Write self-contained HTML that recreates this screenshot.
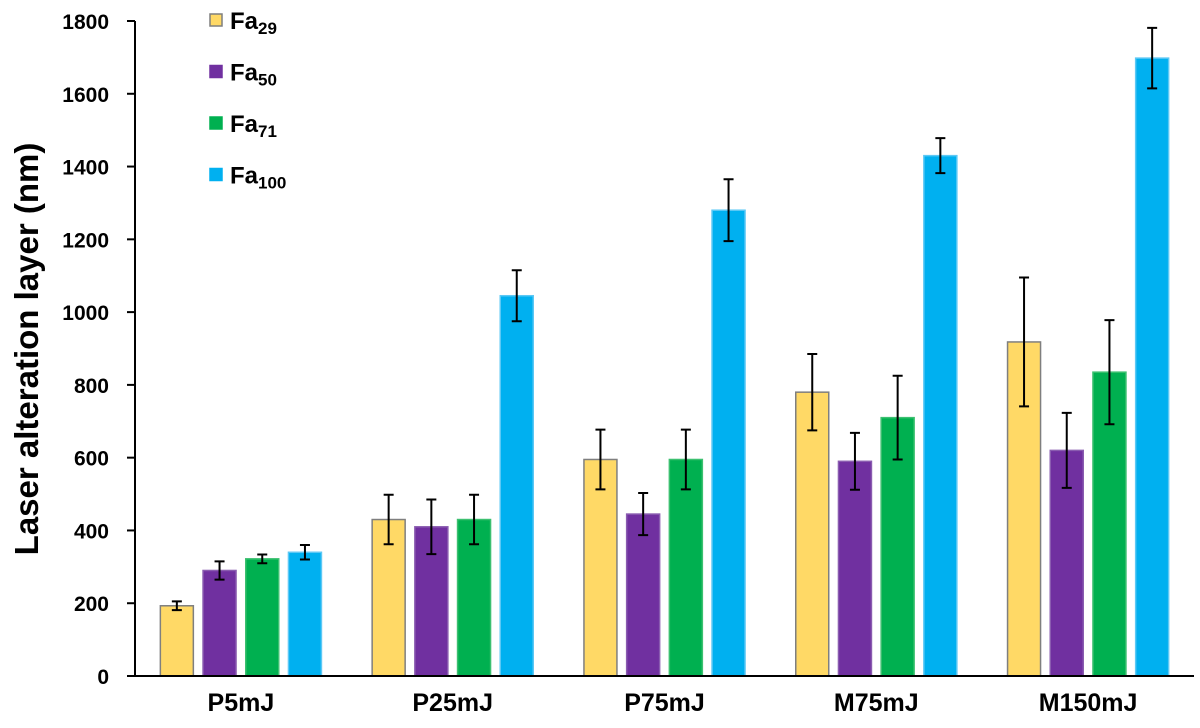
<!DOCTYPE html>
<html><head><meta charset="utf-8"><style>
body{margin:0;background:#fff;}
svg text{font-family:"Liberation Sans",Arial,sans-serif;font-weight:bold;fill:#000;}
</style></head><body>
<svg id="chart" width="1200" height="723"></svg>
<script>
const categories=["P5mJ","P25mJ","P75mJ","M75mJ","M150mJ"];
const seriesNames=["29","50","71","100"];
const fa29=[193,430,595,780,918];
const fa50=[290,410,445,590,620];
const fa71=[322,430,595,710,835];
const fa100=[340,1045,1280,1430,1698];
const err29=[12,68,82,105,177];
const err50=[25,75,58,78,103];
const err71=[12,68,82,115,143];
const err100=[20,70,85,48,83];
const yTicks=[0,200,400,600,800,1000,1200,1400,1600,1800];

const series=[fa29,fa50,fa71,fa100];
const errs=[err29,err50,err71,err100];
const colors=["#FFD966","#7030A0","#00B050","#00B0F0"];
const strokes=["#7f7f7f","#8a5cb0","#3cc070","#5cc8f5"];
const NS="http://www.w3.org/2000/svg";
const svg=document.getElementById('chart');
const x0=135,x1=1194,y0=676,yTop=21,yMax=1800;
const Y=v=>y0-(v/yMax)*(y0-yTop);
const groupW=(x1-x0)/categories.length;
const barW=33,step=42.7;
function mk(t,a){const e=document.createElementNS(NS,t);for(const k in a)e.setAttribute(k,a[k]);svg.appendChild(e);return e;}

categories.forEach((c,i)=>{
  const gc=x0+groupW*(i+0.5);
  series.forEach((s,j)=>{
    const bx=gc-(1.5*step)-barW/2+j*step;
    const r=mk('rect',{x:bx,y:Y(s[i]),width:barW,height:y0-Y(s[i]),fill:colors[j],stroke:strokes[j],'stroke-width':1.5});
    
    
    const cx=bx+barW/2,hi=Y(s[i]+errs[j][i]),lo=Y(s[i]-errs[j][i]);
    const eb=mk('path',{d:`M${cx},${hi}V${lo}M${cx-5},${hi}H${cx+5}M${cx-5},${lo}H${cx+5}`,stroke:'#000','stroke-width':2,fill:'none'});
    
    
  });
  const t=mk('text',{x:gc,y:711,'text-anchor':'middle','font-size':25});
  t.textContent=c;
  
  
});
const ax=mk('path',{d:`M${x0},${yTop}V${y0}H${x1}`,stroke:'#000','stroke-width':2,fill:'none'});


yTicks.forEach(v=>{
  const tk=mk('line',{x1:x0-8,x2:x0,y1:Y(v),y2:Y(v),stroke:'#000','stroke-width':2});
  
  
  const t=mk('text',{x:109,y:Y(v)+8,'text-anchor':'end','font-size':21});
  t.textContent=v;
  
  
});
const yt=mk('text',{x:0,y:0,'text-anchor':'middle','font-size':33,transform:'translate(38,349) rotate(-90)'});
yt.textContent='Laser alteration layer (nm)';


seriesNames.forEach((n,j)=>{
  const ly=14+j*51.5;
  const r=mk('rect',{x:210,y:ly,width:12,height:12,fill:colors[j],stroke:j==0?'#7f7f7f':colors[j],'stroke-width':1.5});
  
  
  const t=mk('text',{x:230,y:ly+15,'font-size':24});
  t.innerHTML='Fa<tspan dy="5" font-size="17">'+n+'</tspan>';
  
  
});
</script>
</body></html>
